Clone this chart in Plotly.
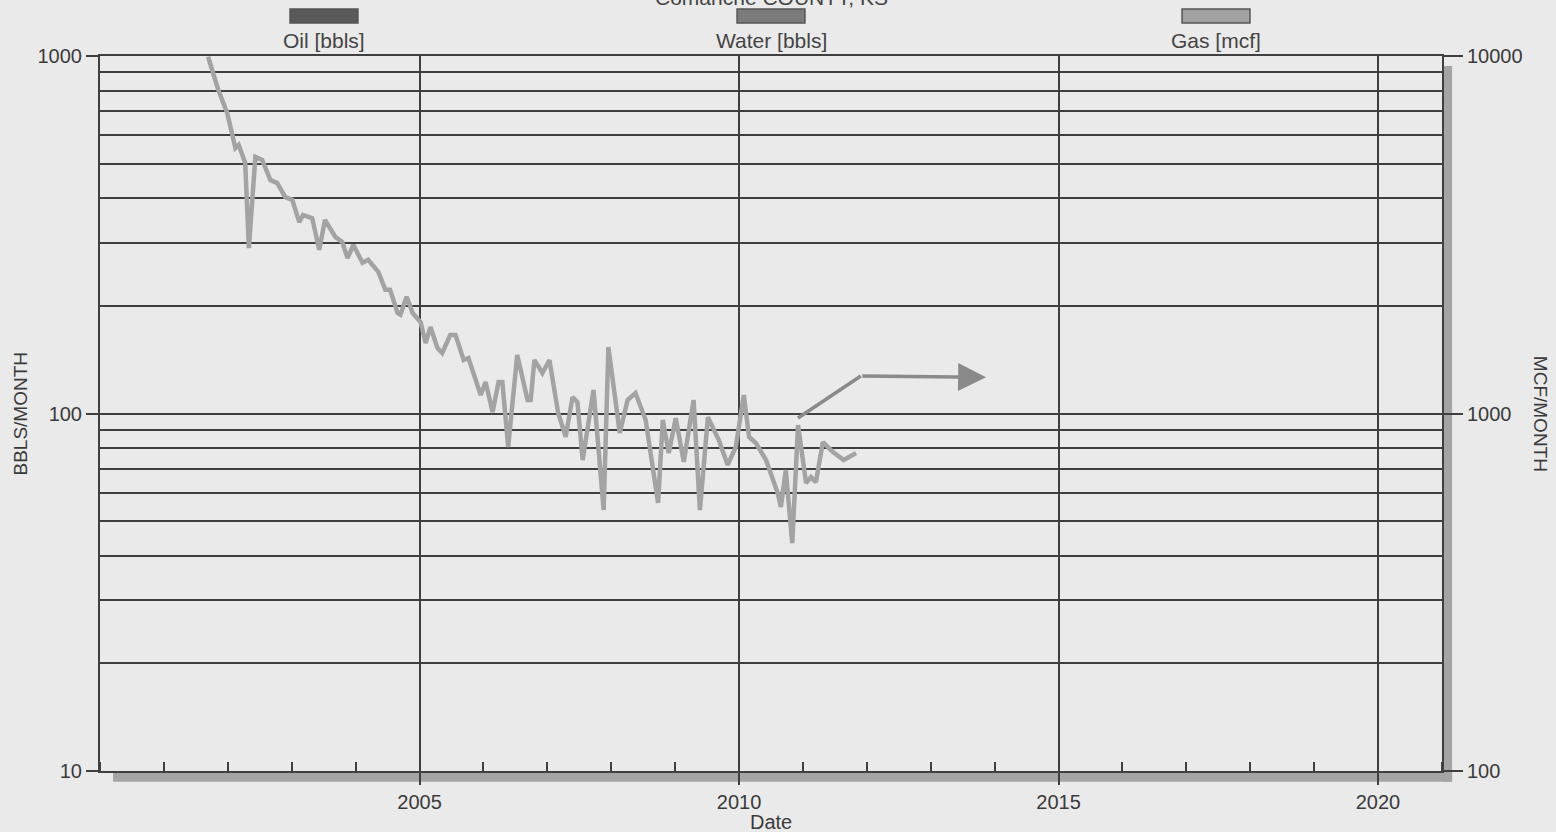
import math
import plotly.graph_objects as go

# ---- data ----
gas_dates = [
    "2001-09-10", "2001-11-07", "2001-12-28", "2002-01-25", "2002-02-13", "2002-03-04",
    "2002-04-10", "2002-05-01", "2002-06-07", "2002-07-16", "2002-09-01", "2002-10-10",
    "2002-11-25", "2003-01-04", "2003-02-13", "2003-03-07", "2003-04-28", "2003-06-07",
    "2003-07-10", "2003-09-07", "2003-10-16", "2003-11-16", "2003-12-19", "2004-02-10",
    "2004-03-13", "2004-05-10", "2004-06-19", "2004-07-16", "2004-08-28", "2004-09-13",
    "2004-10-19", "2004-11-22", "2005-01-07", "2005-02-04", "2005-03-04", "2005-04-13",
    "2005-05-10", "2005-06-25", "2005-07-25", "2005-09-10", "2005-10-07", "2005-12-16",
    "2006-01-13", "2006-02-22", "2006-03-28", "2006-04-19", "2006-05-22", "2006-07-13",
    "2006-09-10", "2006-09-28", "2006-10-19", "2006-12-04", "2007-01-13", "2007-03-04",
    "2007-04-16", "2007-05-25", "2007-06-22", "2007-07-22", "2007-09-22", "2007-11-19",
    "2007-12-16", "2008-02-19", "2008-04-04", "2008-05-19", "2008-07-16", "2008-09-25",
    "2008-10-22", "2008-11-25", "2009-01-04", "2009-02-19", "2009-04-16", "2009-05-22",
    "2009-07-07", "2009-09-07", "2009-10-28", "2009-12-13", "2010-01-28", "2010-02-27",
    "2010-04-07", "2010-06-04", "2010-08-10", "2010-08-28", "2010-09-25", "2010-11-01",
    "2010-12-04", "2011-01-19", "2011-02-16", "2011-03-16", "2011-04-25", "2011-06-22",
    "2011-08-22", "2011-11-01",
]
gas_mcf = [
    9950, 8040, 6930, 6010, 5530, 5640,
    5020, 2900, 5220, 5120, 4500, 4410,
    4030, 3960, 3430, 3590, 3520, 2870,
    3480, 3120, 3020, 2720, 2960, 2640,
    2690, 2490, 2220, 2220, 1910, 1890,
    2120, 1910, 1800, 1575, 1745, 1525,
    1477, 1658, 1658, 1411, 1430, 1126,
    1225, 1010, 1225, 1225, 806, 1458,
    1091, 1091, 1411, 1298, 1411, 1003,
    860, 1112, 1077, 741, 1163, 537,
    1535, 882, 1091, 1141, 959, 562,
    959, 775, 971, 732, 1091, 537,
    977, 843, 718, 806, 1126, 860,
    827, 741, 599, 548, 695, 434,
    928, 639, 664, 643, 832, 780,
    741, 775,
]
# oil and water have no points inside the plotted range
oil_dates, oil_bbls = [], []
water_dates, water_bbls = [], []

legend_labels = ["Oil [bbls]", "Water [bbls]", "Gas [mcf]"]
legend_colors = ["#5a5a5a", "#7b7b7b", "#a2a2a2"]

x_ticks = ["2005-01-01", "2010-01-01", "2015-01-01", "2020-01-01"]
x_ticktext = ["2005", "2010", "2015", "2020"]
y_left_ticks = [10, 100, 1000]
y_right_ticks = [100, 1000, 10000]
y_left_minor = [20, 30, 40, 50, 60, 70, 80, 90, 200, 300, 400, 500, 600, 700, 800, 900]

# hand-drawn arrow annotation on the scan (dates, mcf)
arrow_x = ["2010-12-04", "2011-11-28", "2013-11-13"]
arrow_y = [971, 1273, 1262]

title_text = "Comanche COUNTY, KS"

BG = "#eaeaea"
GRID = "#3f3f3f"
FONT = "Liberation Sans, Arial, sans-serif"
TXT = "#3a3a3a"

fig = go.Figure()
fig.add_trace(go.Scatter(x=oil_dates, y=oil_bbls, yaxis="y", mode="lines",
                         line=dict(color=legend_colors[0], width=4), name="Oil [bbls]"))
fig.add_trace(go.Scatter(x=water_dates, y=water_bbls, yaxis="y", mode="lines",
                         line=dict(color=legend_colors[1], width=4), name="Water [bbls]"))
fig.add_trace(go.Scatter(
    x=gas_dates, y=gas_mcf, yaxis="y2", mode="lines",
    line=dict(color="#a3a3a3", width=4.5), name="Gas [mcf]",
))

fig.update_layout(
    width=1556, height=832,
    margin=dict(l=100, r=114, t=56, b=61),
    paper_bgcolor=BG, plot_bgcolor=BG,
    font=dict(family=FONT, size=20, color=TXT),
    showlegend=False,
    xaxis=dict(
        type="date", range=["2000-01-01", "2021-01-01"],
        tickvals=x_ticks, ticktext=x_ticktext,
        showgrid=True, gridcolor=GRID, gridwidth=2,
        ticks="outside", ticklen=12, tickwidth=2, tickcolor=GRID,
        showline=True, linecolor=GRID, linewidth=2, mirror=True,
        minor=dict(dtick="M12", tick0="2000-01-01", ticks="inside", ticklen=9,
                   tickwidth=2, tickcolor=GRID, showgrid=False),
        zeroline=False, automargin=False,
        tickfont=dict(size=20, color=TXT),
    ),
    yaxis=dict(
        type="log", range=[1, 3],
        tickvals=y_left_ticks, ticktext=[str(v) for v in y_left_ticks],
        showgrid=True, gridcolor=GRID, gridwidth=2,
        ticks="outside", ticklen=12, tickwidth=2, tickcolor=GRID,
        showline=True, linecolor=GRID, linewidth=2, mirror=True,
        minor=dict(tickvals=y_left_minor, showgrid=True, gridcolor=GRID,
                   gridwidth=2, ticks=""),
        zeroline=False, automargin=False,
        tickfont=dict(size=20, color=TXT),
    ),
    yaxis2=dict(
        type="log", range=[2, 4], overlaying="y", side="right",
        tickvals=y_right_ticks, ticktext=[str(v) for v in y_right_ticks],
        showgrid=False, ticks="outside", ticklen=20, tickwidth=2, tickcolor=GRID,
        showline=False, zeroline=False, automargin=False,
        tickfont=dict(size=20, color=TXT),
    ),
)

shapes = []
# drop shadow of the frame (bottom and right)
shapes.append(dict(type="rect", xref="paper", yref="paper", x0=0.0097, x1=1.0075,
                   y0=-0.015, y1=0.0, fillcolor="#a4a4a4", line=dict(width=0), layer="below"))
shapes.append(dict(type="rect", xref="paper", yref="paper", x0=1.0, x1=1.0075,
                   y0=-0.015, y1=0.986, fillcolor="#a4a4a4", line=dict(width=0), layer="below"))

# legend swatches
legend_x = [0.1669, 0.5, 0.8316]
half_w = 0.0253
for lx, col in zip(legend_x, legend_colors):
    shapes.append(dict(type="rect", xref="paper", yref="paper",
                       x0=lx - half_w, x1=lx + half_w, y0=1.0462, y1=1.0657,
                       fillcolor=col, line=dict(color="#555555", width=1.5)))

# hand-drawn arrow: diagonal stroke
shapes.append(dict(type="line", xref="x", yref="y2",
                   x0=arrow_x[0], y0=arrow_y[0], x1=arrow_x[1], y1=arrow_y[1],
                   line=dict(color="#8a8a8a", width=3.5)))

annotations = []
for lx, lab in zip(legend_x, legend_labels):
    annotations.append(dict(xref="paper", yref="paper", x=lx, y=1.021, text=lab,
                            showarrow=False, xanchor="center", yanchor="middle",
                            font=dict(size=21, color="#444444")))
# horizontal stroke with arrowhead (annotation coords on log axes are log10)
annotations.append(dict(xref="x", yref="y2", x=arrow_x[2], y=math.log10(arrow_y[2]),
                        axref="x", ayref="y2", ax=arrow_x[1], ay=math.log10(arrow_y[1]),
                        showarrow=True, arrowhead=2, arrowsize=1.6, arrowwidth=3.5,
                        arrowcolor="#8a8a8a", text=""))
# axis titles
annotations.append(dict(xref="paper", yref="paper", x=0.5, y=-0.071, text="Date",
                        showarrow=False, xanchor="center", yanchor="middle",
                        font=dict(size=20, color=TXT)))
annotations.append(dict(xref="paper", yref="paper", x=-0.0596, y=0.5, text="BBLS/MONTH",
                        showarrow=False, textangle=-90, xanchor="center", yanchor="middle",
                        font=dict(size=19, color=TXT)))
annotations.append(dict(xref="paper", yref="paper", x=1.0735, y=0.5, text="MCF/MONTH",
                        showarrow=False, textangle=90, xanchor="center", yanchor="middle",
                        font=dict(size=19, color=TXT)))
# title, cut off at the top edge of the scan
annotations.append(dict(xref="paper", yref="paper", x=0.5, y=1.0825, text=title_text,
                        showarrow=False, xanchor="center", yanchor="middle",
                        font=dict(size=21, color="#444444")))

fig.update_layout(shapes=shapes, annotations=annotations)
fig.write_html("out.html", config={"displayModeBar": False},
               post_script="document.body.style.margin='0';document.body.style.overflow='hidden';")
